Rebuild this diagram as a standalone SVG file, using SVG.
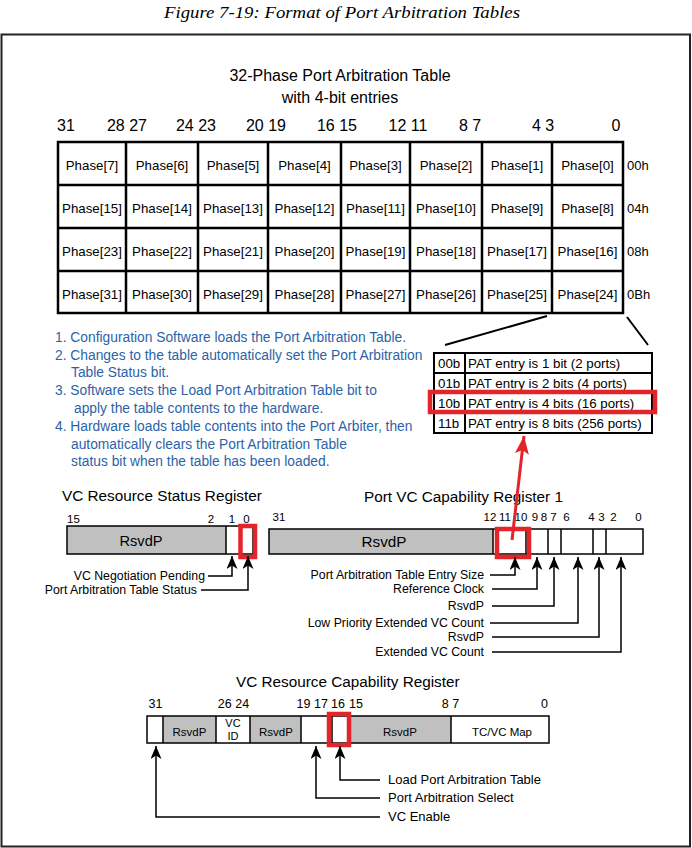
<svg xmlns="http://www.w3.org/2000/svg" width="692" height="848" viewBox="0 0 692 848">
<style>
.t{font-family:"Liberation Sans",Arial,sans-serif;fill:#000}
.ph{font-size:13.3px;text-anchor:middle}
.bl{font-family:"Liberation Sans",Arial,sans-serif;font-size:13.8px;fill:#2b63a8}
.rt{font-size:15.3px}
.bn{font-size:11.5px}
.lb{font-size:12.3px}
.grid{fill:none;stroke:#000;stroke-width:2.5}
.reg{fill:none;stroke:#000;stroke-width:1.5}
.gray{fill:#c0c0c0}
.red{fill:none;stroke:#e3242b;stroke-width:4.5}
.ln{fill:none;stroke:#000;stroke-width:1.5}
</style>
<defs>
<marker id="ah" viewBox="0 0 13 11" refX="13" refY="5.5" markerWidth="13" markerHeight="11" markerUnits="userSpaceOnUse" orient="auto"><path d="M0,0 L13,5.5 L0,11 L3.5,5.5 Z" fill="#000"/></marker>
<marker id="rah" viewBox="0 0 18 14" refX="18" refY="7" markerWidth="18" markerHeight="14" markerUnits="userSpaceOnUse" orient="auto"><path d="M0,0 L18,7 L0,14 L4,7 Z" fill="#e3242b"/></marker>
</defs>
<rect width="692" height="848" fill="#fff"/>
<text x="164" y="18" textLength="356" lengthAdjust="spacingAndGlyphs" style="font-family:'Liberation Serif','Times New Roman',serif;font-style:italic;font-size:17.5px">Figure 7-19: Format of Port Arbitration Tables</text>
<rect id="frame" x="1.5" y="34.5" width="688.5" height="812" fill="none" stroke="#222" stroke-width="2"/>

<g id="phase-table">
<text class="t" x="340" y="81" text-anchor="middle" font-size="16">32-Phase Port Arbitration Table</text>
<text class="t" x="340" y="103" text-anchor="middle" font-size="16">with 4-bit entries</text>
<g class="t" font-size="16" text-anchor="middle">
<text x="66" y="131">31</text><text x="127" y="131">28 27</text><text x="196" y="131">24 23</text><text x="266" y="131">20 19</text><text x="337" y="131">16 15</text><text x="408" y="131">12 11</text><text x="470" y="131">8 7</text><text x="543" y="131">4 3</text><text x="616" y="131">0</text>
</g>
<rect class="grid" x="58" y="142" width="565" height="171"/>
<path class="grid" d="M126,142V313M198,142V313M268,142V313M341,142V313M410,142V313M482,142V313M552,142V313M58,185H623M58,228H623M58,271H623"/>
<g class="t ph">
<text x="92" y="170">Phase[7]</text><text x="162" y="170">Phase[6]</text><text x="233" y="170">Phase[5]</text><text x="304.5" y="170">Phase[4]</text><text x="375.5" y="170">Phase[3]</text><text x="446" y="170">Phase[2]</text><text x="517" y="170">Phase[1]</text><text x="587.5" y="170">Phase[0]</text>
<text x="92" y="213">Phase[15]</text><text x="162" y="213">Phase[14]</text><text x="233" y="213">Phase[13]</text><text x="304.5" y="213">Phase[12]</text><text x="375.5" y="213">Phase[11]</text><text x="446" y="213">Phase[10]</text><text x="517" y="213">Phase[9]</text><text x="587.5" y="213">Phase[8]</text>
<text x="92" y="256">Phase[23]</text><text x="162" y="256">Phase[22]</text><text x="233" y="256">Phase[21]</text><text x="304.5" y="256">Phase[20]</text><text x="375.5" y="256">Phase[19]</text><text x="446" y="256">Phase[18]</text><text x="517" y="256">Phase[17]</text><text x="587.5" y="256">Phase[16]</text>
<text x="92" y="299">Phase[31]</text><text x="162" y="299">Phase[30]</text><text x="233" y="299">Phase[29]</text><text x="304.5" y="299">Phase[28]</text><text x="375.5" y="299">Phase[27]</text><text x="446" y="299">Phase[26]</text><text x="517" y="299">Phase[25]</text><text x="587.5" y="299">Phase[24]</text>
</g>
<g class="t" font-size="13">
<text x="627" y="170">00h</text><text x="627" y="213">04h</text><text x="627" y="256">08h</text><text x="627" y="299">0Bh</text>
</g>
</g>

<g id="steps" class="bl">
<text x="55" y="342">1. Configuration Software loads the Port Arbitration Table.</text>
<text x="55" y="360">2. Changes to the table automatically set the Port Arbitration</text>
<text x="71" y="377">Table Status bit.</text>
<text x="55" y="395">3. Software sets the Load Port Arbitration Table bit to</text>
<text x="74" y="413">apply the table contents to the hardware.</text>
<text x="55" y="431">4. Hardware loads table contents into the Port Arbiter, then</text>
<text x="71" y="449">automatically clears the Port Arbitration Table</text>
<text x="71" y="466">status bit when the table has been loaded.</text>
</g>

<g id="pat-table">
<rect x="434" y="353" width="218" height="80" fill="none" stroke="#000" stroke-width="2"/>
<path d="M465,353V433M434,373H652M434,393H652M434,413H652" fill="none" stroke="#000" stroke-width="2"/>
<g class="t" font-size="13.3">
<text x="438" y="368">00b</text><text x="468" y="368">PAT entry is 1 bit (2 ports)</text>
<text x="438" y="388">01b</text><text x="468" y="388">PAT entry is 2 bits (4 ports)</text>
<text x="438" y="408">10b</text><text x="468" y="408">PAT entry is 4 bits (16 ports)</text>
<text x="438" y="428">11b</text><text x="468" y="428">PAT entry is 8 bits (256 ports)</text>
</g>
<rect class="red" x="430" y="392" width="225" height="20"/>
</g>

<g id="vc-status-reg">
<text class="t rt" x="62" y="501">VC Resource Status Register</text>
<g class="t bn"><text x="67" y="523">15</text><text x="211" y="523" text-anchor="middle">2</text><text x="232" y="523" text-anchor="middle">1</text><text x="246.5" y="523" text-anchor="middle">0</text></g>
<rect class="gray" x="67" y="526" width="159" height="28"/>
<rect class="reg" x="67" y="526" width="186" height="28"/>
<path class="reg" d="M226,526V554M240,526V554"/>
<text class="t" x="141" y="546" text-anchor="middle" font-size="14.6">RsvdP</text>
<rect class="red" x="240.5" y="526" width="14.5" height="31"/>
<g class="t lb" text-anchor="end"><text x="205" y="580">VC Negotiation Pending</text><text x="197" y="594">Port Arbitration Table Status</text></g>
</g>

<g id="port-vc-cap-reg">
<text class="t rt" x="364" y="502">Port VC Capability Register 1</text>
<g class="t bn" text-anchor="middle"><text x="279" y="521">31</text><text x="490" y="521">12</text><text x="505" y="521">11</text><text x="521" y="521">10</text><text x="535" y="521">9</text><text x="544" y="521">8</text><text x="553.5" y="521">7</text><text x="566.5" y="521">6</text><text x="591.5" y="521">4</text><text x="601.5" y="521">3</text><text x="613.5" y="521">2</text><text x="638.5" y="521">0</text></g>
<rect class="gray" x="269" y="529" width="224" height="25"/>
<rect class="reg" x="269" y="529" width="374" height="25"/>
<path class="reg" d="M493,529V554M526,529V554M548,529V554M561,529V554M593,529V554M606,529V554"/>
<text class="t" x="384" y="547" text-anchor="middle" font-size="15.3">RsvdP</text>
<rect class="red" x="497" y="529" width="32" height="28"/>
<g class="t lb" text-anchor="end">
<text x="484" y="579">Port Arbitration Table Entry Size</text>
<text x="484" y="593">Reference Clock</text>
<text x="484" y="610">RsvdP</text>
<text x="484" y="627">Low Priority Extended VC Count</text>
<text x="484" y="641">RsvdP</text>
<text x="484" y="656">Extended VC Count</text>
</g>
</g>

<g id="vc-res-cap-reg">
<text class="t rt" x="236" y="687">VC Resource Capability Register</text>
<g class="t" font-size="12.5" text-anchor="middle"><text x="155.5" y="708">31</text><text x="233.5" y="708">26 24</text><text x="303.5" y="708">19</text><text x="321" y="708">17</text><text x="338" y="708">16</text><text x="356" y="708">15</text><text x="450.5" y="708">8 7</text><text x="544.5" y="708">0</text></g>
<rect class="gray" x="163" y="716" width="53" height="27"/>
<rect class="gray" x="250" y="716" width="51" height="27"/>
<rect class="gray" x="348" y="716" width="103" height="27"/>
<rect class="reg" x="147" y="716" width="402" height="27"/>
<path class="reg" d="M163,716V743M216,716V743M250,716V743M301,716V743M332,716V743M348,716V743M451,716V743"/>
<g class="t" font-size="11.5" text-anchor="middle">
<text x="189.5" y="736">RsvdP</text><text x="276" y="736">RsvdP</text><text x="400" y="736">RsvdP</text><text x="502" y="736">TC/VC Map</text>
<text x="233" y="726.5" font-size="11">VC</text><text x="233" y="739.5" font-size="11">ID</text>
</g>
<rect class="red" x="329" y="714" width="20" height="31"/>
<g class="t" font-size="13"><text x="388" y="784">Load Port Arbitration Table</text><text x="388" y="802">Port Arbitration Select</text><text x="388" y="821">VC Enable</text></g>
</g>

<g id="connectors">
<path d="M547,316L445,345M627,317L648,345" fill="none" stroke="#000" stroke-width="2"/>
<path d="M512,540L524,436" fill="none" stroke="#e3242b" stroke-width="3" marker-end="url(#rah)"/>
<path class="ln" d="M208,576H232V556" marker-end="url(#ah)"/>
<path class="ln" d="M201,590H248V556" marker-end="url(#ah)"/>
<path class="ln" d="M490,575H515V557" marker-end="url(#ah)"/>
<path class="ln" d="M492,589H537V557" marker-end="url(#ah)"/>
<path class="ln" d="M492,606H554V557" marker-end="url(#ah)"/>
<path class="ln" d="M490,623H578V557" marker-end="url(#ah)"/>
<path class="ln" d="M492,637H599V557" marker-end="url(#ah)"/>
<path class="ln" d="M492,652H621V557" marker-end="url(#ah)"/>
<path class="ln" d="M380,780H340V746" marker-end="url(#ah)"/>
<path class="ln" d="M380,798H316V746" marker-end="url(#ah)"/>
<path class="ln" d="M380,817H156V746" marker-end="url(#ah)"/>
</g>
</svg>
